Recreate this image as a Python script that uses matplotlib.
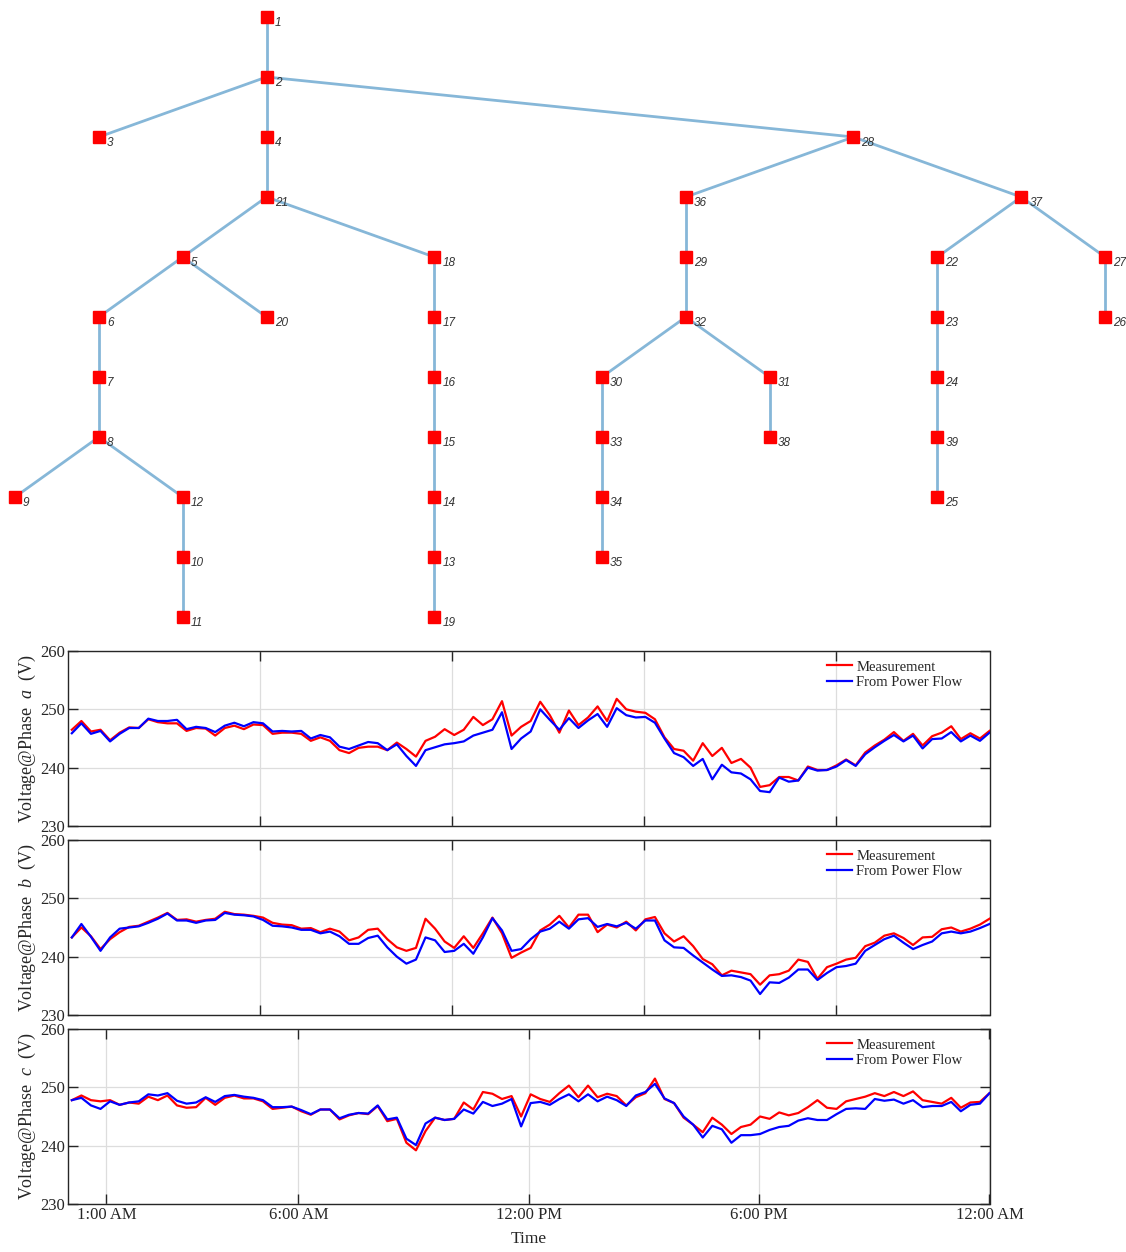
import numpy as np
import matplotlib
matplotlib.use("Agg")
import matplotlib.pyplot as plt
from collections import deque

# ---------------- tree data ----------------
edges = [(1, 2), (2, 3), (2, 4), (2, 28), (4, 21), (21, 5), (21, 18), (5, 6), (5, 20),
         (6, 7), (7, 8), (8, 9), (8, 12), (12, 10), (10, 11),
         (18, 17), (17, 16), (16, 15), (15, 14), (14, 13), (13, 19),
         (28, 36), (28, 37), (36, 29), (29, 32), (32, 30), (32, 31), (30, 33),
         (33, 34), (34, 35), (31, 38),
         (37, 22), (37, 27), (22, 23), (23, 24), (24, 39), (39, 25), (27, 26)]
root = 1
# layered-layout column of each node
node_col = {1: 3, 2: 3, 3: 1, 4: 3, 21: 3, 5: 2, 18: 5, 6: 1, 20: 3, 17: 5, 7: 1,
            16: 5, 8: 1, 15: 5, 9: 0, 12: 2, 14: 5, 10: 2, 13: 5, 11: 2, 19: 5,
            28: 10, 36: 8, 37: 12, 29: 8, 22: 11, 27: 13, 32: 8, 23: 11, 26: 13,
            30: 7, 31: 9, 24: 11, 33: 7, 38: 9, 39: 11, 34: 7, 25: 11, 35: 7}

# ---------------- time-series data ----------------
hours = np.linspace(0.1, 24, 97)

meas_a = [246.5, 248.0, 246.2, 246.5, 244.7, 246.0, 246.9, 246.8, 248.3, 247.8,
          247.6, 247.6, 246.3, 246.8, 246.7, 245.5, 246.8, 247.2, 246.6, 247.4,
          247.3, 245.8, 246.0, 246.0, 245.8, 244.6, 245.2, 244.6, 243.0, 242.5,
          243.4, 243.6, 243.6, 243.0, 244.3, 243.2, 241.9, 244.6, 245.3, 246.6,
          245.6, 246.5, 248.7, 247.3, 248.3, 251.4, 245.5, 247.0, 248.0, 251.3,
          249.0, 246.0, 249.8, 247.3, 248.6, 250.5, 248.0, 251.8, 250.0, 249.6,
          249.4, 248.3, 245.2, 243.2, 242.9, 241.2, 244.2, 242.0, 243.4, 240.8,
          241.5, 240.0, 236.7, 237.0, 238.4, 238.4, 237.8, 240.2, 239.6, 239.6,
          240.4, 241.4, 240.4, 242.6, 243.8, 244.8, 246.1, 244.6, 245.8, 243.8,
          245.4, 246.0, 247.1, 244.9, 245.9, 245.0, 246.3]
pf_a = [245.9, 247.6, 245.8, 246.3, 244.5, 245.8, 246.8, 246.8, 248.4, 248.0,
        248.0, 248.2, 246.6, 247.0, 246.8, 246.1, 247.2, 247.7, 247.1, 247.8,
        247.6, 246.2, 246.3, 246.2, 246.3, 245.0, 245.6, 245.2, 243.6, 243.2,
        243.8, 244.4, 244.2, 243.0, 244.0, 242.0, 240.3, 243.0, 243.5, 244.0,
        244.2, 244.5, 245.5, 246.0, 246.5, 249.5, 243.2, 245.0, 246.2, 250.0,
        248.2, 246.5, 248.5, 246.8, 248.1, 249.2, 247.0, 250.2, 249.0, 248.6,
        248.7, 247.7, 245.0, 242.5, 241.8, 240.3, 241.5, 238.0, 240.5, 239.2,
        239.0, 238.0, 236.0, 235.8, 238.3, 237.6, 237.8, 240.0, 239.5, 239.6,
        240.2, 241.3, 240.3, 242.3, 243.5, 244.6, 245.6, 244.5, 245.5, 243.3,
        244.9, 245.0, 246.1, 244.5, 245.5, 244.6, 246.0]

meas_b = [243.3, 245.0, 243.5, 241.3, 243.0, 244.2, 245.1, 245.3, 246.0, 246.7,
          247.5, 246.3, 246.4, 246.0, 246.3, 246.5, 247.7, 247.3, 247.2, 247.0,
          246.7, 245.8, 245.5, 245.4, 244.8, 244.9, 244.2, 244.8, 244.3, 242.8,
          243.3, 244.6, 244.8, 243.0, 241.6, 241.0, 241.5, 246.5, 244.8, 242.6,
          241.5, 243.5, 241.5, 244.0, 246.7, 244.0, 239.8, 240.7, 241.5, 244.5,
          245.5, 247.0, 245.0, 247.2, 247.2, 244.2, 245.5, 245.0, 246.0, 244.5,
          246.4, 246.8, 244.0, 242.6, 243.5, 241.8, 239.6, 238.7, 236.8, 237.6,
          237.3, 237.0, 235.2, 236.8, 237.0, 237.6, 239.5, 239.1, 236.2, 238.2,
          238.8, 239.5, 239.8, 241.8, 242.4, 243.6, 244.0, 243.2, 242.0, 243.3,
          243.4, 244.7, 245.0, 244.3, 244.8, 245.5, 246.5]
pf_b = [243.3, 245.6, 243.4, 241.0, 243.3, 244.8, 245.0, 245.2, 245.8, 246.5,
        247.4, 246.2, 246.2, 245.8, 246.2, 246.3, 247.5, 247.2, 247.1, 246.9,
        246.3, 245.3, 245.2, 245.0, 244.6, 244.6, 244.0, 244.3, 243.5, 242.2,
        242.2, 243.2, 243.6, 241.6, 240.0, 238.8, 239.5, 243.3, 242.8, 240.8,
        241.0, 242.2, 240.5, 243.3, 246.6, 244.5, 241.0, 241.3, 243.0, 244.3,
        244.8, 246.0, 244.8, 246.4, 246.6, 245.1, 245.6, 245.2, 245.8, 244.8,
        246.2, 246.2, 242.8, 241.6, 241.5, 240.2, 239.0, 237.8, 236.7, 236.8,
        236.5, 235.9, 233.6, 235.6, 235.5, 236.4, 237.8, 237.8, 236.0, 237.2,
        238.2, 238.4, 238.8, 241.0, 242.0, 243.0, 243.6, 242.4, 241.3, 242.0,
        242.6, 244.0, 244.3, 244.0, 244.3, 244.9, 245.6]

meas_c = [247.8, 248.6, 247.8, 247.6, 247.8, 247.0, 247.4, 247.2, 248.4, 247.8,
          248.6, 246.9, 246.5, 246.6, 248.2, 247.0, 248.2, 248.6, 248.1, 248.1,
          247.6, 246.3, 246.5, 246.7, 245.9, 245.3, 246.2, 246.2, 244.5, 245.2,
          245.6, 245.4, 246.8, 244.2, 244.6, 240.5, 239.2, 242.5, 244.8, 244.4,
          244.6, 247.4, 246.2, 249.2, 248.9, 248.0, 248.5, 245.0, 248.8, 248.0,
          247.5, 249.0, 250.3, 248.3, 250.3, 248.3, 248.9, 248.5, 246.9, 248.3,
          249.0, 251.5, 248.0, 247.3, 244.8, 243.6, 242.3, 244.8, 243.6, 242.0,
          243.2, 243.6, 245.0, 244.6, 245.7, 245.2, 245.6, 246.6, 247.8, 246.5,
          246.3, 247.6, 248.0, 248.4, 249.0, 248.5, 249.2, 248.5, 249.3, 247.8,
          247.5, 247.2, 248.2, 246.5, 247.4, 247.5, 249.0]
pf_c = [247.8, 248.2, 246.9, 246.3, 247.6, 247.0, 247.4, 247.6, 248.8, 248.6,
        249.0, 247.7, 247.2, 247.4, 248.3, 247.5, 248.5, 248.7, 248.4, 248.2,
        247.8, 246.6, 246.6, 246.7, 246.1, 245.4, 246.2, 246.2, 244.7, 245.3,
        245.6, 245.5, 246.9, 244.5, 244.8, 241.2, 240.1, 243.8, 244.8, 244.4,
        244.6, 246.2, 245.5, 247.5, 246.8, 247.2, 248.0, 243.3, 247.3, 247.5,
        247.0, 248.0, 248.8, 247.6, 248.8, 247.6, 248.4, 247.8, 246.8, 248.6,
        249.2, 250.6, 248.1, 247.3, 245.0, 243.6, 241.4, 243.4, 242.8, 240.5,
        241.8, 241.8, 242.0, 242.7, 243.2, 243.4, 244.3, 244.7, 244.4, 244.4,
        245.4, 246.3, 246.4, 246.3, 248.0, 247.7, 247.9, 247.2, 247.8, 246.6,
        246.8, 246.8, 247.5, 245.9, 247.0, 247.2, 249.0]

phases = ["a", "b", "c"]
series_labels = ["Measurement", "From Power Flow"]
top_ticks = [5, 10, 15, 20]
bottom_ticks = [1, 6, 12, 18, 24]
bottom_ticklabels = ["1:00 AM", "6:00 AM", "12:00 PM", "6:00 PM", "12:00 AM"]
y_ticks = [230, 240, 250, 260]

# ---------------- figure ----------------
plt.rcParams['font.family'] = ['Liberation Serif', 'DejaVu Serif']
plt.rcParams['mathtext.fontset'] = 'custom'
plt.rcParams['mathtext.it'] = 'Liberation Serif:italic'
plt.rcParams['mathtext.rm'] = 'Liberation Serif'

fig = plt.figure(figsize=(11.26, 12.52), dpi=100)

# tree axes
W, H = 1126, 1252
tax = fig.add_axes([0, 1 - 640 / H, 1, 640 / H])
tax.set_xlim(-15 / 83.85, (1126 - 15) / 83.85)
tax.set_ylim((640 - 17) / 60.0, -17 / 60.0)
tax.axis('off')

# depth by BFS
adj = {}
for u, v in edges:
    adj.setdefault(u, []).append(v)
    adj.setdefault(v, []).append(u)
depth = {root: 0}
dq = deque([root])
while dq:
    u = dq.popleft()
    for v in adj[u]:
        if v not in depth:
            depth[v] = depth[u] + 1
            dq.append(v)

edge_color = '#86b7d8'
for u, v in edges:
    tax.plot([node_col[u], node_col[v]], [depth[u], depth[v]], color=edge_color,
             lw=2.0, solid_capstyle='round', zorder=1)
nodes = sorted(node_col)
tax.plot([node_col[n] for n in nodes], [depth[n] for n in nodes], 's',
         color='#ff0000', ms=8, mec='#ff0000', ls='none', zorder=2)
for n in nodes:
    tax.annotate(str(n), (node_col[n], depth[n]), xytext=(5.8, -4.3),
                 textcoords='offset points', ha='left', va='center',
                 fontsize=8.5, fontstyle='italic', color='#333333',
                 family=['Liberation Sans', 'DejaVu Sans'], zorder=3)

# time-series axes
left = 68 / W
width = (989.5 - 68) / W
tops = [651, 840, 1029]
ph = 175
meas_all = [meas_a, meas_b, meas_c]
pf_all = [pf_a, pf_b, pf_c]
txtcol = '#262626'
for i in range(3):
    ax = fig.add_axes([left, 1 - (tops[i] + ph) / H, width, ph / H])
    ax.plot(hours, meas_all[i], color='#ff0000', lw=1.6, label=series_labels[0], zorder=3)
    ax.plot(hours, pf_all[i], color='#0000ff', lw=1.6, label=series_labels[1], zorder=3)
    ax.set_xlim(0, 24)
    ax.set_ylim(230, 260)
    ax.set_yticks(y_ticks)
    if i < 2:
        ax.set_xticks(top_ticks)
        ax.set_xticklabels([])
    else:
        ax.set_xticks(bottom_ticks)
        ax.set_xticklabels(bottom_ticklabels)
        ax.set_xlabel("Time", fontsize=12.5, color=txtcol, labelpad=6)
    ax.grid(True, color='#dddddd', lw=0.9, zorder=0)
    ax.tick_params(direction='in', top=True, right=True, length=7, width=1,
                   labelsize=12, colors=txtcol, pad=2)
    for s in ax.spines.values():
        s.set_color(txtcol)
        s.set_linewidth(1.0)
    ax.set_ylabel(r"Voltage@Phase  $\it{%s}$  (V)" % phases[i], fontsize=13,
                  color=txtcol, labelpad=2)
    leg = ax.legend(loc='upper right', bbox_to_anchor=(0.982, 1.005), frameon=False,
                    fontsize=10.5, handlelength=1.7, handletextpad=0.3,
                    labelspacing=0.15, borderaxespad=0.3)
    for t in leg.get_texts():
        t.set_color(txtcol)

fig.savefig("out.png", dpi=100)
